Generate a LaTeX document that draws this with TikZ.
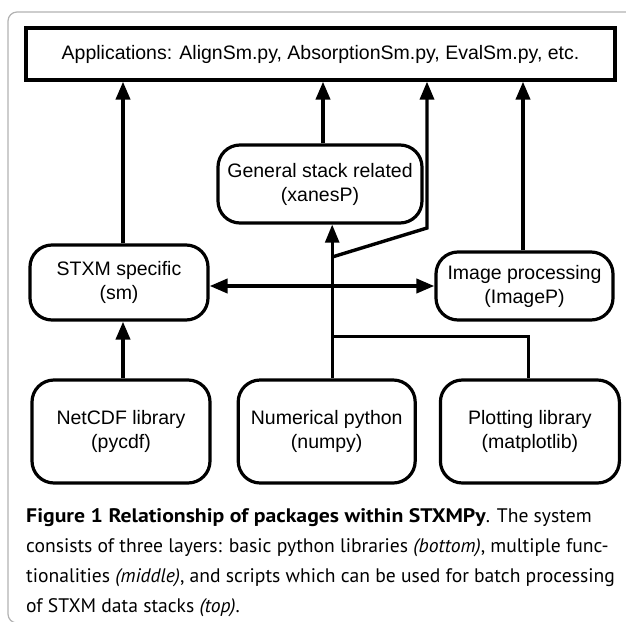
\documentclass[tikz,border=0pt]{standalone}
\usepackage{fontspec}
\setmainfont{Liberation Sans}
\newfontfamily\captionfont[BoldFeatures={FakeStretch=1.11}]{PT Sans}
\usetikzlibrary{positioning,arrows.meta}
\pgfmathsetmacro{\pkgwidth}{178}
\pgfmathsetmacro{\pkgheight}{75}
\pgfmathsetmacro{\baseheight}{103}

\begin{document}
\begin{tikzpicture}[x=1pt, y=-1pt,
    pkg/.style={draw, line width=3.2pt, rounded corners=22pt, align=center,
      minimum width=\pkgwidth pt, minimum height=\pkgheight pt,
      font=\fontsize{19.5}{24}\selectfont},
    base/.style={pkg, minimum height=\baseheight pt},
    tip/.style={-{Triangle[length=18pt, width=14pt]}},
    link/.style={line width=3.8pt, tip},
    thinlink/.style={line width=2.6pt, tip},
    branch/.style={line width=3pt}]
    % page and frame
    \useasboundingbox (0,0) rectangle (626,621);
    \clip (0,0) rectangle (626,621);
    \draw[gray!60, line width=1.2pt, rounded corners=9pt] (8,12) rectangle (700,623);
    % define nodes
    % top layer
    \node[draw, line width=3.2pt, minimum width=589pt, minimum height=52pt,
      font=\fontsize{19.5}{24}\selectfont] (apps) at (320.5,54)
      {Applications: AlignSm.py, AbsorptionSm.py, EvalSm.py, etc.};
    % middle layer
    \node[pkg, minimum width=204pt, minimum height=78pt] (general) at (320,184)
      {General stack related\\(xanesP)};
    \node[pkg] (stxm) at (119,282.5) {STXM specific\\(sm)};
    \node[pkg, minimum width=177pt, minimum height=68pt] (imagep) at (524.5,286)
      {Image processing\\(ImageP)};
    % bottom layer
    \node[base] (netcdf) at (121,431.5) {NetCDF library\\(pycdf)};
    \node[base, right=25pt of netcdf, minimum width=177pt] (numpy) {Numerical python\\(numpy)};
    \node[base, right=22pt of numpy, minimum width=179pt] (plotting) {Plotting library\\(matplotlib)};
    % helper points
    \coordinate (trunk) at ([xshift=5.5pt]numpy.north);
    \coordinate (split) at (trunk |- 0,336);
    \coordinate (fork) at (trunk |- 0,257);
    \coordinate (bend) at (427,228);
    % draw connections
    \draw[link] (netcdf.north -| 123,0) -- (stxm.south -| 123,0);
    \draw[link] (stxm.north -| 123,0) -- (apps.south -| 123,0);
    \draw[link] (general.north -| 323,0) -- (apps.south -| 323,0);
    \draw[link] (imagep.north -| 523,0) -- (apps.south -| 523,0);
    \draw[line width=3.8pt, {Triangle[length=18pt, width=14pt]}-{Triangle[length=18pt, width=14pt]}]
      (stxm.east |- 0,286) -- (imagep.west |- 0,286);
    \draw[thinlink] (trunk) -- (trunk |- general.south);
    \draw[branch] (split) -| (plotting.north -| 528,0);
    \draw[branch, line width=3.4pt, tip] (fork) -- (bend) -- (bend |- apps.south);
    % caption
    \node[anchor=north west, align=left, inner sep=0pt,
      font=\captionfont\fontsize{19.6}{30}\selectfont] (caption) at (26,508)
      {\textbf{Figure 1 Relationship of packages within STXMPy}. The system\\
       consists of three layers: basic python libraries \textit{(bottom)}, multiple func-\\
       tionalities \textit{(middle)}, and scripts which can be used for batch processing\\
       of STXM data stacks \textit{(top)}.};
\end{tikzpicture}
\end{document}
